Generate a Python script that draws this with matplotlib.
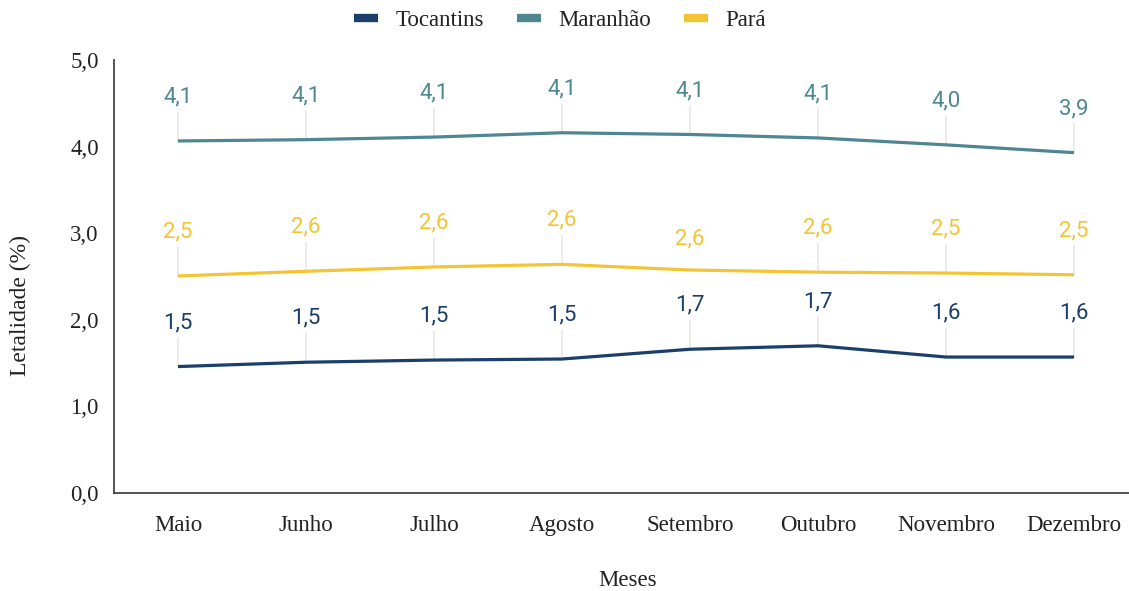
import matplotlib
matplotlib.use("Agg")
import matplotlib.pyplot as plt
from matplotlib.ticker import FuncFormatter

months = ["Maio", "Junho", "Julho", "Agosto", "Setembro", "Outubro", "Novembro", "Dezembro"]
tocantins = [1.46, 1.51, 1.535, 1.547, 1.66, 1.70, 1.57, 1.57]
maranhao = [4.065, 4.08, 4.11, 4.16, 4.14, 4.10, 4.02, 3.93]
para = [2.506, 2.56, 2.61, 2.64, 2.575, 2.55, 2.54, 2.52]
tocantins_labels = ["1,5", "1,5", "1,5", "1,5", "1,7", "1,7", "1,6", "1,6"]
maranhao_labels = ["4,1", "4,1", "4,1", "4,1", "4,1", "4,1", "4,0", "3,9"]
para_labels = ["2,5", "2,6", "2,6", "2,6", "2,6", "2,6", "2,5", "2,5"]
yticks = [0, 1, 2, 3, 4, 5]

series = [
    ("Tocantins", tocantins, tocantins_labels, "#1B3F6B"),
    ("Maranhão", maranhao, maranhao_labels, "#4E8692"),
    ("Pará", para, para_labels, "#F3C433"),
]

W, H = 1129, 591
fig = plt.figure(figsize=(W / 100, H / 100), dpi=100)
ax = fig.add_axes([114 / W, (H - 493) / H, (1138 - 114) / W, (493 - 60) / H])

x = list(range(len(months)))
for name, vals, labs, col in series:
    ax.plot(x, vals, color=col, lw=2.3, label=name, solid_capstyle="butt", zorder=3)
    for i, (v, lab) in enumerate(zip(vals, labs)):
        off = 44
        lead = 29
        if name == "Pará" and i == 4:
            off = 31
            lead = 0
        if lead:
            ax.annotate("", xy=(i, v), xytext=(0, lead), textcoords="offset pixels",
                        arrowprops=dict(arrowstyle="-", color="#e3e3e3", lw=1,
                                        shrinkA=0, shrinkB=0), zorder=1)
        ax.annotate(lab, xy=(i, v), xytext=(0, off), textcoords="offset pixels",
                    ha="center", va="center", color=col, fontsize=16,
                    family="Roboto")

ax.set_xlim(-0.5, len(months) - 0.5)
ax.set_ylim(0, 5)
ax.set_yticks(yticks)
ax.yaxis.set_major_formatter(FuncFormatter(lambda v, p: f"{v:.1f}".replace(".", ",")))
ax.set_xticks(x)
ax.set_xticklabels(months)
for s in ["top", "right"]:
    ax.spines[s].set_visible(False)
for s in ["left", "bottom"]:
    ax.spines[s].set_color("#444444")
    ax.spines[s].set_linewidth(1.3)
ax.tick_params(axis="both", length=0, labelsize=16.5, labelcolor="#222222",
               labelfontfamily="Liberation Serif")
ax.tick_params(axis="y", pad=11)
ax.tick_params(axis="x", pad=16)

fig.text(628 / W, 1 - 580 / H, "Meses", ha="center", va="center",
         fontsize=16.5, family="Liberation Serif", color="#222222")
fig.text(20 / W, 1 - 306 / H, "Letalidade (%)", ha="center", va="center",
         rotation=90, fontsize=17, family="Liberation Serif", color="#222222")

leg = fig.legend(loc="center", bbox_to_anchor=(560 / W, 1 - 20 / H), ncol=3,
                 frameon=False, handlelength=1.05, handletextpad=0.75,
                 columnspacing=1.45,
                 prop={"family": "Liberation Serif", "size": 16.5})
for h in leg.legend_handles:
    h.set_linewidth(6)
for t in leg.get_texts():
    t.set_color("#222222")

fig.savefig("out.png", dpi=100)
